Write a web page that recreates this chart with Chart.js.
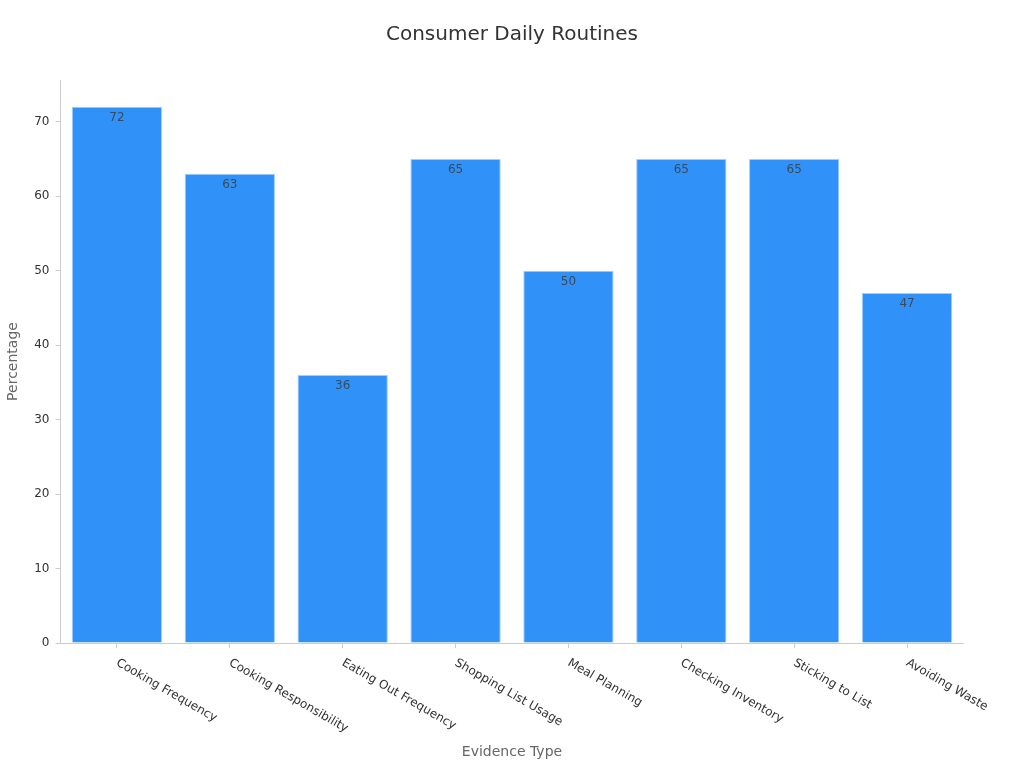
<!DOCTYPE html>
<html>
<head>
<meta charset="utf-8">
<script src="https://cdn.jsdelivr.net/npm/chart.js@4"></script>
<style>
  html, body { margin: 0; padding: 0; background: #fff; }
  #wrap { width: 1024px; height: 768px; }
</style>
</head>
<body>
<div id="wrap"><canvas id="routinesChart"></canvas></div>
<script>
const categories = [
    "Cooking Frequency",
    "Cooking Responsibility",
    "Eating Out Frequency",
    "Shopping List Usage",
    "Meal Planning",
    "Checking Inventory",
    "Sticking to List",
    "Avoiding Waste"
];
const percentages = [72, 63, 36, 65, 50, 65, 65, 47];

const FONT = "'DejaVu Sans', sans-serif";

// value labels just inside the top of each bar
const barLabels = {
    id: "barLabels",
    afterDatasetsDraw(chart) {
        const ctx = chart.ctx;
        const meta = chart.getDatasetMeta(0);
        ctx.save();
        ctx.font = "12px " + FONT;
        ctx.fillStyle = "#3a4a5c";
        ctx.textAlign = "center";
        ctx.textBaseline = "middle";
        meta.data.forEach((bar, i) => {
            ctx.fillText(String(percentages[i]), bar.x, bar.y + 11);
        });
        ctx.restore();
    }
};

// x tick labels rotated clockwise, starting at the tick
const slantedTicks = {
    id: "slantedTicks",
    afterDraw(chart) {
        const ctx = chart.ctx;
        const xScale = chart.scales.x;
        ctx.save();
        ctx.font = "12px " + FONT;
        ctx.fillStyle = "#333";
        ctx.textAlign = "left";
        ctx.textBaseline = "middle";
        categories.forEach((label, i) => {
            const x = xScale.getPixelForTick(i);
            ctx.save();
            ctx.translate(x, xScale.top + 19);
            ctx.rotate(Math.PI / 6);
            ctx.fillText(label, 0, 0);
            ctx.restore();
        });
        ctx.restore();
    }
};

new Chart(document.getElementById("routinesChart"), {
    type: "bar",
    data: {
        labels: categories,
        datasets: [{
            label: "Percentage",
            data: percentages,
            backgroundColor: "rgb(48, 146, 249)",
            borderColor: "rgb(160, 206, 255)",
            borderWidth: 1,
            barPercentage: 0.8,
            categoryPercentage: 1
        }]
    },
    options: {
        responsive: true,
        maintainAspectRatio: false,
        animation: false,
        layout: { padding: 0 },
        plugins: {
            legend: { display: false },
            tooltip: { enabled: false },
            title: {
                display: true,
                text: "Consumer Daily Routines",
                color: "#333",
                font: { family: FONT, size: 20, weight: "normal" },
                padding: { top: 22.5, bottom: 33.5 }
            }
        },
        scales: {
            x: {
                offset: true,
                grid: {
                    offset: false,
                    drawOnChartArea: false,
                    drawTicks: true,
                    tickLength: 5,
                    color: "#ccc"
                },
                border: { display: true, color: "#ccc" },
                ticks: { display: false },
                title: {
                    display: true,
                    text: "Evidence Type",
                    color: "#666",
                    font: { family: FONT, size: 14 },
                    padding: { top: 4, bottom: 7 }
                },
                afterFit(scale) { scale.height = 125; }
            },
            y: {
                min: 0,
                max: 75.6,
                grid: {
                    drawOnChartArea: false,
                    drawTicks: true,
                    tickLength: 5,
                    color: "#ccc"
                },
                border: { display: true, color: "#ccc" },
                ticks: {
                    stepSize: 10,
                    includeBounds: false,
                    color: "#333",
                    padding: 6,
                    font: { family: FONT, size: 12 }
                },
                title: {
                    display: true,
                    text: "Percentage",
                    color: "#666",
                    font: { family: FONT, size: 14 },
                    padding: { top: 5, bottom: 4 }
                },
                afterFit(scale) { scale.width = 60.5; }
            },
            // empty right-hand gutter so the title stays centred on the page
            gutter: {
                type: "linear",
                position: "right",
                display: true,
                grid: { display: false },
                border: { display: false },
                ticks: { display: false },
                afterFit(scale) { scale.width = 60.5; }
            }
        }
    },
    plugins: [barLabels, slantedTicks]
});
</script>
</body>
</html>
